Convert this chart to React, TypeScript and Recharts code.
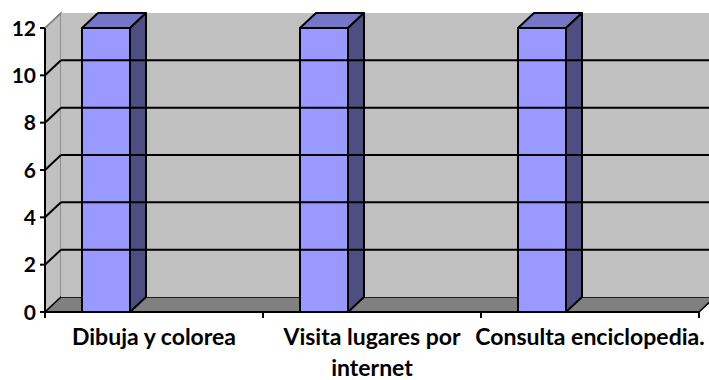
import React from 'react';
import { BarChart, Bar, XAxis, YAxis, CartesianGrid } from 'recharts';

const categories = ['Dibuja y colorea', 'Visita lugares por\ninternet', 'Consulta enciclopedia.'];
const values = [12, 12, 12];
const yTicks = [0, 2, 4, 6, 8, 10, 12];

const W = 709;
const H = 380;
const M = { top: 28, right: 10, bottom: 0, left: 0 };
const Y_AXIS_W = 45;
const X_AXIS_H = 68;
// depth offset of the 3D box
const DX = 16;
const DY = 15;

const PLOT_L = M.left + Y_AXIS_W;
const PLOT_R = W - M.right;
const PLOT_T = M.top;
const PLOT_B = H - M.bottom - X_AXIS_H;
const BAND = (PLOT_R - PLOT_L) / categories.length;

const FONT = 'Lato, "Open Sans", sans-serif';

const data = categories.map((name, i) => ({ name, value: values[i] }));

const Bar3D = (props: any) => {
  const { x, y, width, height } = props;
  const x0 = x - width;
  return (
    <g stroke="#000" strokeWidth={2} strokeLinejoin="round">
      <polygon
        points={`${x0},${y} ${x0 + DX},${y - DY} ${x0 + width + DX},${y - DY} ${x0 + width},${y}`}
        fill="#7676c6"
      />
      <polygon
        points={`${x0 + width},${y} ${x0 + width + DX},${y - DY} ${x0 + width + DX},${y + height - DY} ${x0 + width},${y + height}`}
        fill="#4e4e82"
      />
      <rect x={x0} y={y} width={width} height={height} fill="#9999ff" />
    </g>
  );
};

// tick label plus the gridline running up the side wall and across the back wall
const YTick = (props: any) => {
  const { x, y, payload } = props;
  const v = payload.value;
  const inner = v !== 0 && v !== 12;
  return (
    <g>
      {v !== 0 && (
        <line x1={PLOT_L} y1={y} x2={PLOT_L + DX} y2={y - DY} stroke={inner ? '#000' : '#808080'} strokeWidth={inner ? 2 : 1.5} />
      )}
      {inner && <line x1={PLOT_L + DX} y1={y - DY} x2={W} y2={y - DY} stroke="#000" strokeWidth={2} />}
      <text x={x} y={y} dy={7.5} textAnchor="end" fontFamily={FONT} fontWeight={700} fontSize={21} fill="#000">
        {v}
      </text>
    </g>
  );
};

const XTick = (props: any) => {
  const { x, y, payload, index } = props;
  const lines = String(payload.value).split('\n');
  return (
    <g>
      <line x1={x - BAND / 2} y1={y} x2={x - BAND / 2} y2={y + 6} stroke="#000" strokeWidth={2} />
      {index === categories.length - 1 && (
        <line x1={x + BAND / 2} y1={y} x2={x + BAND / 2} y2={y + 6} stroke="#000" strokeWidth={2} />
      )}
      {lines.map((t, i) => (
        <text key={i} x={x} y={y + 33 + i * 31} textAnchor="middle" fontFamily={FONT} fontWeight={700} fontSize={23} fill="#000">
          {t}
        </text>
      ))}
    </g>
  );
};

export default function App() {
  return (
    <div style={{ position: 'absolute', left: 0, top: 0, width: W, height: H, background: '#fff' }}>
      {/* side wall and floor of the 3D box */}
      <svg width={W} height={H} style={{ position: 'absolute', left: 0, top: 0 }}>
        <polygon
          points={`${PLOT_L},${PLOT_T} ${PLOT_L + DX},${PLOT_T - DY} ${PLOT_L + DX},${PLOT_B - DY} ${PLOT_L},${PLOT_B}`}
          fill="#c0c0c0"
          stroke="#808080"
          strokeWidth={1.5}
        />
        <polygon
          points={`${PLOT_L},${PLOT_B} ${PLOT_R},${PLOT_B} ${PLOT_R + DX},${PLOT_B - DY} ${PLOT_L + DX},${PLOT_B - DY}`}
          fill="#808080"
          stroke="#000"
          strokeWidth={1.5}
        />
      </svg>
      <div style={{ position: 'absolute', left: 0, top: 0 }}>
        <BarChart width={W} height={H} data={data} margin={M} barSize={48}>
          <CartesianGrid
            x={PLOT_L + DX}
            y={PLOT_T - DY}
            width={W - PLOT_L - DX}
            height={PLOT_B - PLOT_T}
            fill="#c0c0c0"
            fillOpacity={1}
            stroke="#808080"
            horizontal={false}
            vertical={false}
          />
          <YAxis
            domain={[0, 12]}
            ticks={yTicks}
            width={Y_AXIS_W}
            axisLine={{ stroke: '#000', strokeWidth: 2 }}
            tickLine={{ stroke: '#000', strokeWidth: 2 }}
            tickSize={5}
            tickMargin={4}
            tick={<YTick />}
            interval={0}
            {...({ zIndex: -50 } as any)}
          />
          <XAxis
            dataKey="name"
            height={X_AXIS_H}
            axisLine={{ stroke: '#000', strokeWidth: 2 }}
            tickLine={false}
            tickSize={0}
            tickMargin={0}
            tick={<XTick />}
            interval={0}
          />
          <Bar dataKey="value" shape={<Bar3D />} isAnimationActive={false} />
        </BarChart>
      </div>
    </div>
  );
}
